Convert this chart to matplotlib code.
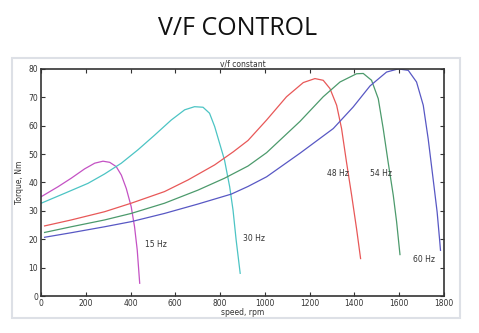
import matplotlib.pyplot as plt
from matplotlib.patches import Rectangle

# torque-speed curves (speed rpm, torque Nm)
speed_15 = [1, 76, 135, 195, 240, 277, 307, 336, 359, 381, 403, 418, 430, 441]
torque_15 = [35.0, 38.5, 41.5, 44.8, 46.8, 47.5, 47.1, 45.6, 42.6, 37.9, 31.5, 24.4, 16.2, 4.5]

speed_30 = [1, 106, 210, 284, 359, 433, 508, 582, 642, 686, 724, 753, 776, 798,
            820, 843, 858, 872, 890]
torque_30 = [32.7, 36.2, 39.7, 43.0, 46.8, 51.5, 56.7, 62.0, 65.6, 66.7, 66.5, 64.4,
             59.7, 53.8, 47.9, 38.5, 30.3, 19.7, 8.0]

speed_48 = [16, 135, 284, 403, 552, 657, 776, 859, 925, 1008, 1097, 1172, 1224,
            1261, 1291, 1321, 1343, 1365, 1388, 1410, 1428]
torque_48 = [24.7, 26.8, 29.7, 32.7, 36.8, 40.9, 46.2, 50.8, 54.8, 62.0, 70.2, 75.2,
             76.6, 76.0, 73.1, 67.2, 59.0, 47.2, 35.5, 23.7, 13.2]

speed_54 = [16, 135, 284, 403, 552, 701, 820, 925, 1008, 1157, 1261, 1336, 1410,
            1440, 1477, 1507, 1529, 1551, 1574, 1589, 1604]
torque_54 = [22.4, 24.4, 26.8, 29.1, 32.7, 37.3, 41.5, 45.8, 50.5, 61.5, 70.2, 75.4,
             78.3, 78.4, 76.0, 69.5, 59.0, 47.2, 35.5, 26.1, 14.6]

speed_60 = [16, 135, 284, 403, 552, 701, 850, 925, 1008, 1157, 1306, 1395, 1470,
            1544, 1596, 1641, 1678, 1708, 1730, 1752, 1770, 1782, 1785]
torque_60 = [20.7, 22.3, 24.4, 26.2, 29.1, 32.4, 35.9, 38.6, 42.0, 50.3, 59.0, 66.6,
             74.0, 78.9, 80.0, 79.5, 75.4, 67.2, 55.4, 41.3, 29.6, 19.0, 16.1]

labels = ["15 Hz", "30 Hz", "48 Hz", "54 Hz", "60 Hz"]
label_x = [465, 903, 1277, 1470, 1662]
label_y = [18.3, 20.4, 43.3, 43.3, 12.7]

colors = ["#c452c4", "#4cc4c4", "#e85858", "#4c9a6c", "#5858c4"]

fig = plt.figure(figsize=(4.79, 3.33), dpi=100)
fig.text(0.495, 0.915, "V/F CONTROL", ha="center", va="center",
         fontsize=18, family="Open Sans", color="#111111")

# light frame of the pasted image
fig.patches.append(Rectangle((0.025, 0.045), 0.935, 0.78, transform=fig.transFigure,
                             fill=False, edgecolor="#dde0e6", linewidth=1.5))

ax = fig.add_axes([0.0856, 0.111, 0.841, 0.682])
series = [(speed_15, torque_15), (speed_30, torque_30), (speed_48, torque_48),
          (speed_54, torque_54), (speed_60, torque_60)]
for (sx, sy), c in zip(series, colors):
    ax.plot(sx, sy, color=c, linewidth=0.9, solid_joinstyle="round")

for t, x, y in zip(labels, label_x, label_y):
    ax.text(x, y, t, fontsize=5.5, va="center", ha="left", color="#333333")

ax.set_xlim(0, 1800)
ax.set_ylim(0, 80)
ax.set_xticks(range(0, 1801, 200))
ax.set_yticks(range(0, 81, 10))
ax.tick_params(direction="in", top=True, right=True, labelsize=5.5,
               length=3, width=0.8, colors="#333333", pad=2)
for s in ax.spines.values():
    s.set_linewidth(1.2)
    s.set_color("#333333")

ax.set_title("v/f constant", fontsize=5.5, pad=2, color="#333333")
ax.set_xlabel("speed, rpm", fontsize=5.5, labelpad=0, color="#333333")
ax.set_ylabel("Torque, Nm", fontsize=5.5, labelpad=3, color="#333333")

fig.savefig("out.png", dpi=100)
